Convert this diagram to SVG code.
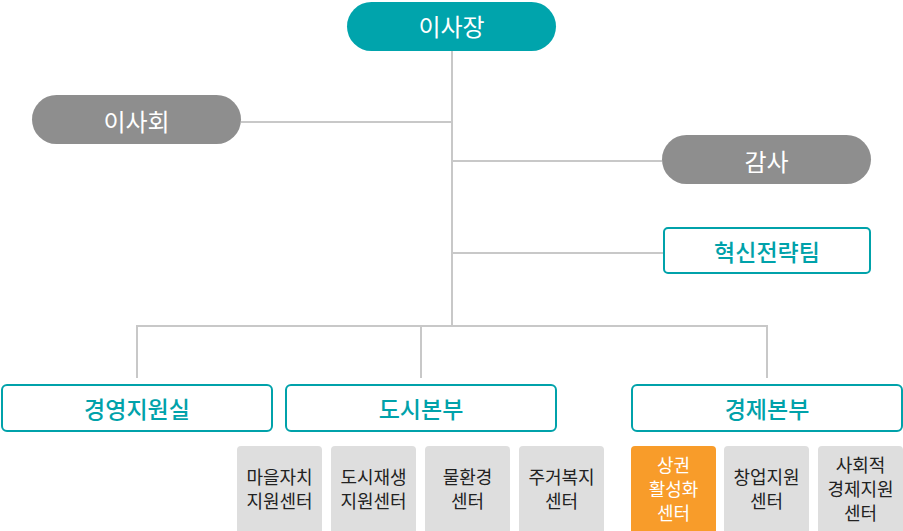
<svg xmlns="http://www.w3.org/2000/svg" width="903" height="531" viewBox="0 0 903 531">
<style>
text{font-family:"Noto Sans CJK KR","Noto Sans",sans-serif;text-anchor:middle;dominant-baseline:central}
.pillT{fill:#00a4ac}
.pillG{fill:#8e8e8e}
.wt{fill:#ffffff;font-size:24px}
.box{fill:#ffffff;stroke:#00a2aa;stroke-width:2}
.bt{fill:#00a2aa;font-size:23px;font-weight:500}
.sub{fill:#dedede}
.subO{fill:#f89c2a}
.st{fill:#222222;font-size:18px}
.sto{fill:#ffffff;font-size:18px}
.ln{stroke:#c8c8c8;stroke-width:2;fill:none}
</style>
<g id="connectors">
<line class="ln" x1="452" y1="51" x2="452" y2="326"/>
<line class="ln" x1="241" y1="122" x2="452" y2="122"/>
<line class="ln" x1="452" y1="161" x2="662" y2="161"/>
<line class="ln" x1="452" y1="253" x2="663" y2="253"/>
<line class="ln" x1="136" y1="326" x2="768" y2="326"/>
<line class="ln" x1="137" y1="325" x2="137" y2="378"/>
<line class="ln" x1="421" y1="325" x2="421" y2="378"/>
<line class="ln" x1="767" y1="325" x2="767" y2="378"/>
</g>
<g id="chairman">
<rect class="pillT" x="347" y="2" width="209" height="49" rx="24.5"/>
<text class="wt" x="451.5" y="25">이사장</text>
</g>
<g id="board">
<rect class="pillG" x="32" y="95" width="209" height="49" rx="24.5"/>
<text class="wt" x="136.5" y="120">이사회</text>
</g>
<g id="audit">
<rect class="pillG" x="662" y="135" width="209" height="49" rx="24.5"/>
<text class="wt" x="766.5" y="160">감사</text>
</g>
<g id="innovation">
<rect class="box" x="664" y="228" width="206" height="45" rx="4"/>
<text class="bt" x="767" y="251">혁신전략팀</text>
</g>
<g id="mgmt">
<rect class="box" x="2" y="385" width="270" height="46" rx="5"/>
<text class="bt" x="137" y="408">경영지원실</text>
</g>
<g id="urban">
<rect class="box" x="286" y="385" width="270" height="46" rx="5"/>
<text class="bt" x="421" y="408">도시본부</text>
</g>
<g id="economy">
<rect class="box" x="632" y="385" width="270" height="46" rx="5"/>
<text class="bt" x="767" y="408">경제본부</text>
</g>
<g id="village">
<rect class="sub" x="237" y="446" width="85" height="90" rx="4"/>
<text class="st" x="279.5" y="476">마을자치<tspan x="279.5" dy="24">지원센터</tspan></text>
</g>
<g id="regen">
<rect class="sub" x="331" y="446" width="85" height="90" rx="4"/>
<text class="st" x="373.5" y="476">도시재생<tspan x="373.5" dy="24">지원센터</tspan></text>
</g>
<g id="water">
<rect class="sub" x="425" y="446" width="85" height="90" rx="4"/>
<text class="st" x="467.5" y="476">물환경<tspan x="467.5" dy="24">센터</tspan></text>
</g>
<g id="housing">
<rect class="sub" x="519" y="446" width="85" height="90" rx="4"/>
<text class="st" x="561.5" y="476">주거복지<tspan x="561.5" dy="24">센터</tspan></text>
</g>
<g id="commerce">
<rect class="subO" x="631" y="446" width="85" height="90" rx="4"/>
<text class="sto" x="673.5" y="464">상권<tspan x="673.5" dy="24">활성화</tspan><tspan x="673.5" dy="24">센터</tspan></text>
</g>
<g id="startup">
<rect class="sub" x="724" y="446" width="85" height="90" rx="4"/>
<text class="st" x="766.5" y="476">창업지원<tspan x="766.5" dy="24">센터</tspan></text>
</g>
<g id="social">
<rect class="sub" x="818" y="446" width="85" height="90" rx="4"/>
<text class="st" x="860.5" y="464">사회적<tspan x="860.5" dy="24">경제지원</tspan><tspan x="860.5" dy="24">센터</tspan></text>
</g>
</svg>
